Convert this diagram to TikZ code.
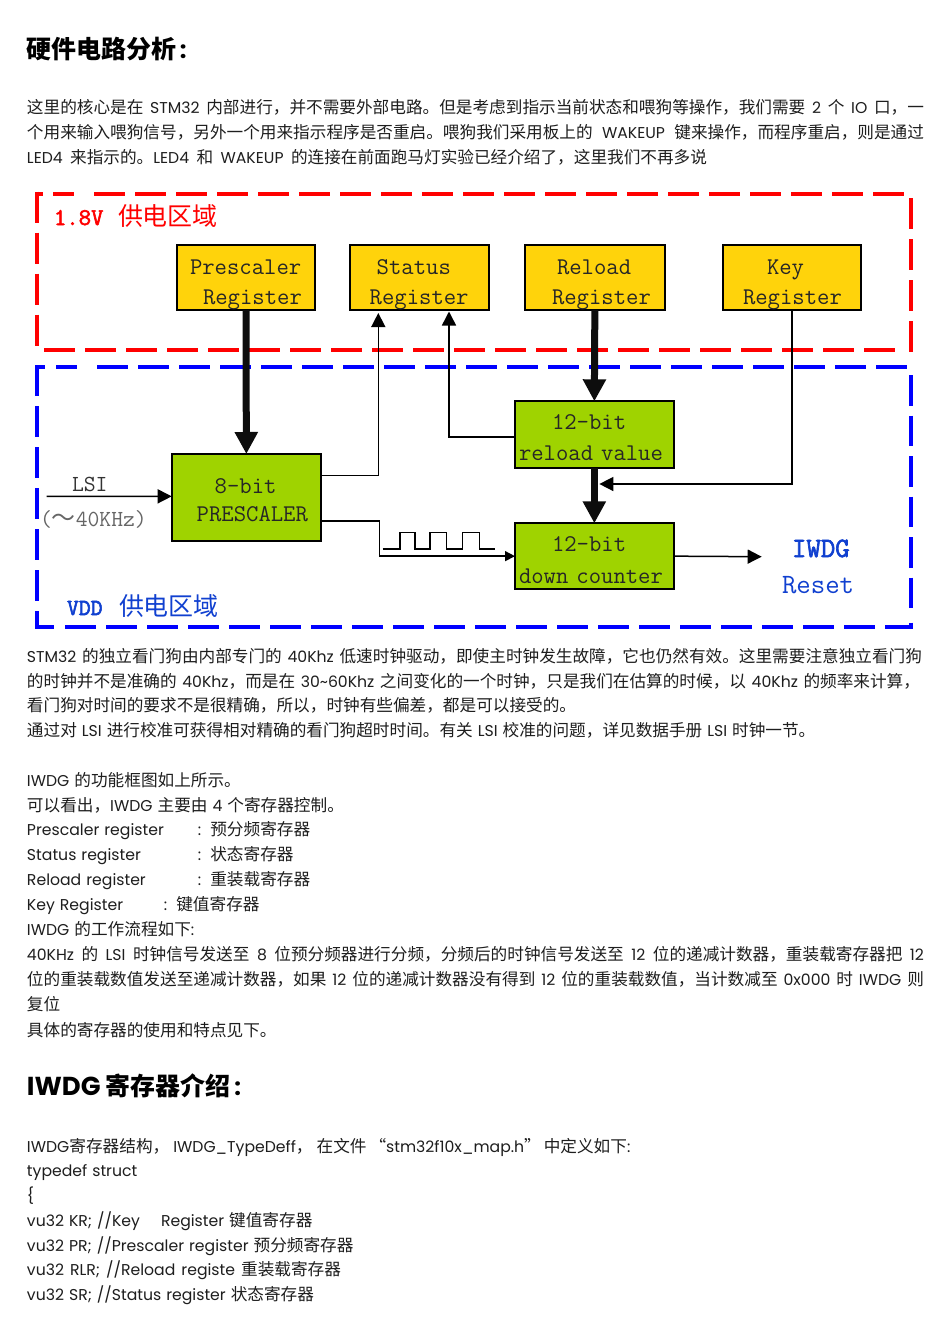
\documentclass[tikz,border=0pt]{standalone}
\usepackage{fontspec}
\usetikzlibrary{arrows.meta}
\setmainfont[Scale=0.98]{Poppins}
\newfontfamily\cjk[Scale=1.04]{Noto Sans CJK SC}
\newfontfamily\lblb[FakeBold=2.4]{Latin Modern Mono}
\makeatletter
\XeTeXinterchartokenstate=1
\newXeTeXintercharclass\cjkc
\newcount\cc
\cc="4E00 \loop \XeTeXcharclass\cc=\cjkc \advance\cc 1 \ifnum\cc<"A000 \repeat
\cc="3000 \loop \XeTeXcharclass\cc=\cjkc \advance\cc 1 \ifnum\cc<"3040 \repeat
\cc="FF00 \loop \XeTeXcharclass\cc=\cjkc \advance\cc 1 \ifnum\cc<"FFF0 \repeat
\XeTeXcharclass"201C=\cjkc
\XeTeXcharclass"201D=\cjkc
\newcommand\tocjk{\edef\savedfam{\f@family}\cjk}
\newcommand\fromcjk{\fontfamily{\savedfam}\selectfont}
\XeTeXinterchartoks 0 \cjkc={\tocjk}
\XeTeXinterchartoks 4095 \cjkc={\tocjk}
\XeTeXinterchartoks \cjkc 0={\fromcjk}
\XeTeXinterchartoks \cjkc 4095={\fromcjk}
\makeatother
\XeTeXlinebreaklocale "zh"
\XeTeXlinebreakskip=0pt plus 2pt minus 0.4pt
\newcommand\ind[1]{\hspace*{#1pt}}
\newcommand\up[1]{\rule{0pt}{#1pt}}
\newcommand\txtfont{\fontsize{16}{20}\selectfont\spaceskip 5pt plus 1pt minus 1pt\relax}
\definecolor{regy}{HTML}{FFD30B}
\definecolor{grn}{HTML}{9FD300}
\definecolor{txtc}{HTML}{1E1E1E}
\definecolor{lblue}{HTML}{1040D0}
\tikzset{
  txt/.style={anchor=base west,inner sep=0pt,outer sep=0pt,text=txtc,yshift=-0.6pt,font=\txtfont},
  head/.style={anchor=base west,inner sep=0pt,outer sep=0pt,text=black,font=\fontsize{24}{28}\selectfont\bfseries},
  zone/.style={draw=#1,line width=4pt},
  zonedash/.style={draw=#1,line width=4pt,dash pattern=on 31pt off 10pt},
  box/.style={draw=black,line width=2.3pt,fill=#1,inner sep=0pt,outer sep=0pt,align=left,text=black!85,font=\ttfamily\fontsize{24}{29.7}\selectfont},
  sig/.style={draw=black,line width=1.5pt,-{Triangle[length=14pt,width=14pt]}},
  thick arrow/.style={draw=black!95,line width=7pt,-{Triangle[length=22pt,width=22pt]}},
  lab/.style={inner sep=0pt,outer sep=0pt,anchor=base west,font=\ttfamily\fontsize{#1}{#1}\selectfont},
  lab/.default=23,
}
\begin{document}
\begin{tikzpicture}[x=1pt,y=-1pt]
\useasboundingbox (0,0) rectangle (950,1344);
\fill[white] (0,0) rectangle (950,1344);

% Text above
\node[head] (h1) at (27,58.5) {硬件电路分析\hspace{3pt}:};
\node[txt] (a1) at (27,112.5) {\hbox to 897pt{这里的核心是在 STM32 内部进行，并不需要外部电路。但是考虑到指示当前状态和喂狗等操作，我们需要 2 个 IO 口，一}};
\node[txt] (a2) at (27,137.5) {\hbox to 897pt{个用来输入喂狗信号，另外一个用来指示程序是否重启。喂狗我们采用板上的 WAKEUP 键来操作，而程序重启，则是通过}};
\node[txt] (a3) at (27,162.5) {\hbox to 680pt{LED4 来指示的。LED4 和 WAKEUP 的连接在前面跑马灯实验已经介绍了，这里我们不再多说}};

% Red zone
\draw[zone=red] (35,193.5) -- (43,193.5) (53,193.5) -- (74,193.5);
\draw[zonedash=red] (94,193.5) -- (905,193.5);
\draw[zonedash=red] (37,191.5) -- (37,347);
\draw[zonedash=red] (910.7,198) -- (910.7,352);
\draw[zonedash=red] (44,350) -- (897,350);
% Blue zone
\draw[zone=blue] (35,367.3) -- (45,367.3) (56,367.3) -- (77,367.3);
\draw[zonedash=blue] (97,367.3) -- (908,367.3);
\draw[zonedash=blue] (37,365.3) -- (37,629.3);
\draw[zone=blue,dash pattern=on 30.5pt off 10pt] (910.7,375) -- (910.7,611);
\draw[zone=blue] (910.7,622.7) -- (910.7,629.3) (37,627.3) -- (54,627.3);
\draw[zonedash=blue] (65,627.3) -- (913,627.3);

\node[lab=24,text=red,font=\lblb\fontsize{24}{24}\selectfont] (t18) at (54,225) {1.8V};
\node[lab=24,text=red] (t18c) at (118,225) {供电区域};
\node[lab=23,text=lblue,font=\lblb\fontsize{23}{23}\selectfont] (tvdd) at (67,615) {VDD};
\node[lab=24,text=lblue] (tvddc) at (119,615) {供电区域};

% Registers
\node[box=regy,minimum height=64.7pt,text width=138pt] (pre) at (246,277.65) {\ind{13}\up{29}Prescaler\\\ind{26}Register};
\node[box=regy,minimum height=64.7pt,text width=139.6pt] (sta) at (419.5,277.65) {\ind{27}\up{29}Status\\\ind{20}Register};
\node[box=regy,minimum height=64.7pt,text width=139.7pt] (rel) at (594.85,277.65) {\ind{32}\up{29}Reload\\\ind{27}Register};
\node[box=regy,minimum height=64.7pt,text width=138pt] (key) at (792,277.65) {\ind{44}\up{29}Key\\\ind{20}Register};

% Counters
\node[box=grn,minimum height=86.7pt,text width=149.3pt,font=\ttfamily\fontsize{24}{28.3}\selectfont] (bit8) at (246.35,497.35) {\ind{43}\up{20}8-bit\\\ind{25}PRESCALER};
\node[box=grn,minimum height=66.4pt,text width=158.7pt,font=\ttfamily\fontsize{24}{30.5}\selectfont] (rv) at (594.35,434.5) {\ind{37}\up{21}12-bit\\\ind{4}reload value};
\node[box=grn,minimum height=65.7pt,text width=158.7pt,font=\ttfamily\fontsize{24}{31.5}\selectfont] (dc) at (594.35,556.15) {\ind{37}\up{23}12-bit\\\ind{4}down counter};

% Labels
\node[lab=23,text=black!80] (lsi) at (72,491) {LSI};
\node[lab=23,text=black!60] (khz) at (40,526) {(～40KHz)};
\node[lab=28,text=lblue,font=\lblb\fontsize{28}{28}\selectfont] (iw) at (792,557) {IWDG};
\node[lab=28,text=lblue,font=\ttfamily\fontsize{28}{28}\selectfont] (rs) at (782,593) {Reset};
\coordinate (lsistart) at (46.7,496.3);
\coordinate (iwend) at (761.7,556.7);

% Thick buses
\draw[thick arrow] (pre.south) -- (bit8.north);
\draw[thick arrow] (rel.south) -- (rv.north);
\draw[thick arrow] (rv.south) -- (dc.north);

% Signals
\draw[sig] (lsistart) -- ([yshift=1pt]bit8.west);
\draw[sig] ([yshift=-21.7pt]bit8.north east) -| ([xshift=-41.2pt,yshift=-3pt]sta.south);
\draw[sig] (rv.west |- 0,437) -| ([xshift=29.5pt,yshift=-1.5pt]sta.south);
\draw[sig] (key.south) |- ([xshift=5pt,yshift=-16.3pt]rv.south);
\draw[sig,-{Triangle[length=10pt,width=10pt]}] ([yshift=-67pt]bit8.north east) -- ++(58.3pt,0pt) |- (dc.west);
\draw[sig] (dc.east) -- (iwend);
\draw[black,line width=1.5pt] (bit8.south east) ++(61.7,8.3) -- ++(17.3,0) -- ++(0,-16.3) -- ++(15,0) -- ++(0,16.3) -- ++(15,0) -- ++(0,-16.3) -- ++(16.7,0) -- ++(0,16.3) -- ++(16,0) -- ++(0,-16.3) -- ++(16.6,0) -- ++(0,16.3) -- ++(15.7,0);

% Text below
\node[txt] (b1) at (27,661.5) {\hbox to 895pt{STM32 的独立看门狗由内部专门的 40Khz 低速时钟驱动，即使主时钟发生故障，它也仍然有效。这里需要注意独立看门狗}};
\node[txt] (b2) at (27,686.5) {\hbox to 893pt{的时钟并不是准确的 40Khz，而是在 30\textasciitilde 60Khz 之间变化的一个时钟，只是我们在估算的时候，以 40Khz 的频率来计算，}};
\node[txt] (b3) at (27,710.5) {看门狗对时间的要求不是很精确，所以，时钟有些偏差，都是可以接受的。};
\node[txt] (b4) at (27,735.5) {通过对 LSI 进行校准可获得相对精确的看门狗超时时间。有关 LSI 校准的问题，详见数据手册 LSI 时钟一节。};
\node[txt] (b5) at (27,785.5) {IWDG 的功能框图如上所示。};
\node[txt] (b6) at (27,810.5) {可以看出，IWDG 主要由 4 个寄存器控制。};
\node[txt] (b7) at (27,834.5) {\makebox[171pt][l]{Prescaler register}:\hspace{9pt}预分频寄存器};
\node[txt] (b8) at (27,859.5) {\makebox[171pt][l]{Status register}:\hspace{9pt}状态寄存器};
\node[txt] (b9) at (27,884.5) {\makebox[171pt][l]{Reload register}:\hspace{9pt}重装载寄存器};
\node[txt] (b10) at (27,909.5) {\makebox[137pt][l]{Key Register}:\hspace{9pt}键值寄存器};
\node[txt] (b11) at (27,934.5) {IWDG 的工作流程如下:};
\node[txt] (b12) at (27,959.5) {\hbox to 897pt{40KHz 的 LSI 时钟信号发送至 8 位预分频器进行分频，分频后的时钟信号发送至 12 位的递减计数器，重装载寄存器把 12}};
\node[txt] (b13) at (27,984.5) {\hbox to 897pt{位的重装载数值发送至递减计数器，如果 12 位的递减计数器没有得到 12 位的重装载数值，当计数减至 0x000 时 IWDG 则}};
\node[txt] (b14) at (27,1009.5) {复位};
\node[txt] (b15) at (27,1035.5) {具体的寄存器的使用和特点见下。};
\node[head] (h2) at (27,1095.5) {{\fontsize{26.5}{28}\selectfont IWDG} 寄存器介绍\hspace{4pt}:};
\node[txt] (c1) at (27,1151.5) {IWDG寄存器结构，\hspace{4pt}IWDG\_TypeDeff，\hspace{4pt}在文件\hspace{3pt}“stm32f10x\_map.h”\hspace{3pt}中定义如下:};
\node[txt] (c2) at (27,1175.5) {typedef struct};
\node[txt] (c3) at (27,1200.5) {\{};
\node[txt] (c4) at (27,1225.5) {vu32 KR; //Key\hspace{21pt}Register 键值寄存器};
\node[txt] (c5) at (27,1250.5) {vu32 PR; //Prescaler register 预分频寄存器};
\node[txt] (c6) at (27,1274.5) {\hbox to 314pt{vu32 RLR; //Reload registe 重装载寄存器}};
\node[txt] (c7) at (27,1299.5) {vu32 SR; //Status register 状态寄存器};
\end{tikzpicture}
\end{document}
